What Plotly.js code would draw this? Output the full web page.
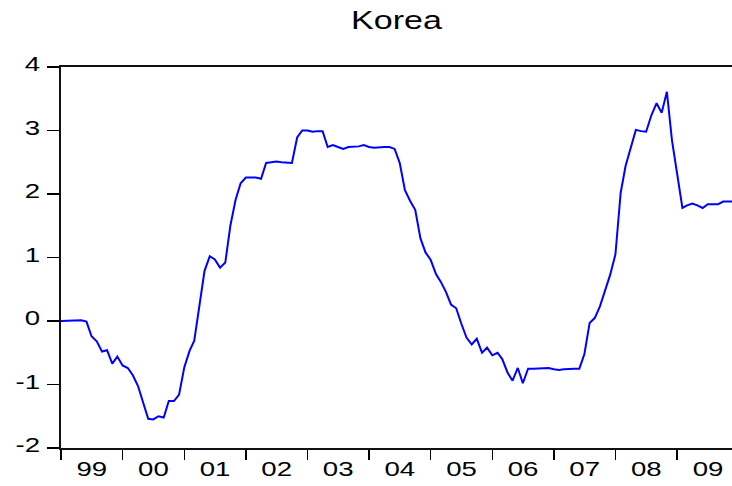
<!DOCTYPE html>
<html>
<head>
<meta charset="utf-8">
<script src="https://cdn.plot.ly/plotly-3.0.1.min.js"></script>
<style>
  html, body { margin: 0; padding: 0; background: #ffffff; overflow: hidden; }
  #chart { width: 732px; height: 486px; }
</style>
</head>
<body>
<div id="chart"></div>
<script>
// ---- data (monthly) ----
const chartTitle = 'Korea';
const years = [1999, 2000, 2001, 2002, 2003, 2004, 2005, 2006, 2007, 2008, 2009];
const v1999 = [0.00, 0.00, 0.00, 0.00, 0.01, -0.01, -0.24, -0.32, -0.48, -0.46, -0.67, -0.56];
const v2000 = [-0.70, -0.74, -0.85, -1.02, -1.28, -1.54, -1.55, -1.50, -1.52, -1.26, -1.26, -1.16];
const v2001 = [-0.73, -0.47, -0.31, 0.25, 0.79, 1.02, 0.97, 0.84, 0.92, 1.50, 1.91, 2.17];
const v2002 = [2.26, 2.26, 2.26, 2.24, 2.49, 2.50, 2.51, 2.50, 2.50, 2.49, 2.89, 3.00];
const v2003 = [3.00, 2.98, 2.99, 2.99, 2.74, 2.77, 2.74, 2.71, 2.74, 2.74, 2.75, 2.77];
const v2004 = [2.74, 2.73, 2.74, 2.74, 2.74, 2.71, 2.49, 2.06, 1.89, 1.75, 1.30, 1.08];
const v2005 = [0.96, 0.74, 0.62, 0.46, 0.26, 0.20, -0.04, -0.26, -0.37, -0.28, -0.50, -0.42];
const v2006 = [-0.54, -0.50, -0.60, -0.81, -0.94, -0.74, -0.98, -0.75, -0.75, -0.75, -0.75, -0.74];
const v2007 = [-0.76, -0.77, -0.76, -0.75, -0.75, -0.75, -0.52, -0.03, 0.05, 0.23, 0.49, 0.73];
const v2008 = [1.05, 2.02, 2.44, 2.73, 3.01, 2.99, 2.98, 3.24, 3.43, 3.28, 3.61, 2.85];
const v2009 = [2.32, 1.78, 1.82, 1.85, 1.82, 1.78, 1.84, 1.84, 1.84, 1.88, 1.88, 1.88];
const yearValues = [v1999, v2000, v2001, v2002, v2003, v2004, v2005, v2006, v2007, v2008, v2009];
const yTicks = [-2, -1, 0, 1, 2, 3, 4];

// build monthly dates from the year list
const xs = [], ys = [];
years.forEach((yr, i) => {
  yearValues[i].forEach((v, m) => {
    xs.push(yr + '-' + String(m + 1).padStart(2, '0') + '-01');
    ys.push(v);
  });
});

const FONT = 'Liberation Sans, Arial, Helvetica, sans-serif';

const trace = {
  x: xs, y: ys, type: 'scatter', mode: 'lines',
  line: { color: '#0000ff', width: 2 },
  hoverinfo: 'skip', showlegend: false
};

const layout = {
  width: 732, height: 486,
  margin: { l: 61, r: 0, t: 67, b: 38 },
  paper_bgcolor: '#ffffff', plot_bgcolor: '#ffffff',
  font: { family: FONT, color: '#000000', size: 20 },
  title: {
    text: chartTitle,
    font: { family: FONT, size: 25, color: '#000000' },
    x: 0.5, xref: 'paper', xanchor: 'center',
    y: 1 - 12 / 486, yref: 'container', yanchor: 'top'
  },
  xaxis: {
    type: 'date',
    range: ['1999-01-01', '2009-11-22'],
    tick0: '1999-01-01', dtick: 'M12',
    tickformat: '%y', ticklabelmode: 'period',
    ticks: 'outside', ticklen: 10, tickwidth: 1.5, tickcolor: '#000000',
    ticklabelstandoff: -8,
    showline: true, linecolor: '#111111', linewidth: 2, mirror: true,
    showgrid: false, zeroline: false,
    tickfont: { family: FONT, size: 20, color: '#000000' }
  },
  yaxis: {
    range: [-2, 4],
    tickmode: 'array', tickvals: yTicks, ticktext: yTicks.map(String),
    ticks: 'outside', ticklen: 12, tickwidth: 1.5, tickcolor: '#000000',
    ticklabelstandoff: 3, ticklabelshift: -3,
    showline: true, linecolor: '#111111', linewidth: 2, mirror: false,
    showgrid: false, zeroline: false,
    tickfont: { family: FONT, size: 20, color: '#000000' }
  }
};

function stretch(sel, s, anchor) {
  document.querySelectorAll(sel).forEach(t => {
    const b = t.getBBox();
    const cx = anchor === 'end' ? b.x + b.width : b.x + b.width / 2;
    const tr = t.getAttribute('transform') || '';
    t.setAttribute('transform', tr + ' translate(' + cx + ',0) scale(' + s + ',1) translate(' + (-cx) + ',0)');
  });
}

Plotly.newPlot('chart', [trace], layout, { staticPlot: true, displayModeBar: false }).then(() => {
  stretch('#chart .gtitle', 1.36, 'middle');
  stretch('#chart .xtick text', 1.38, 'middle');
  stretch('#chart .ytick text', 1.38, 'end');
});
</script>
</body>
</html>
